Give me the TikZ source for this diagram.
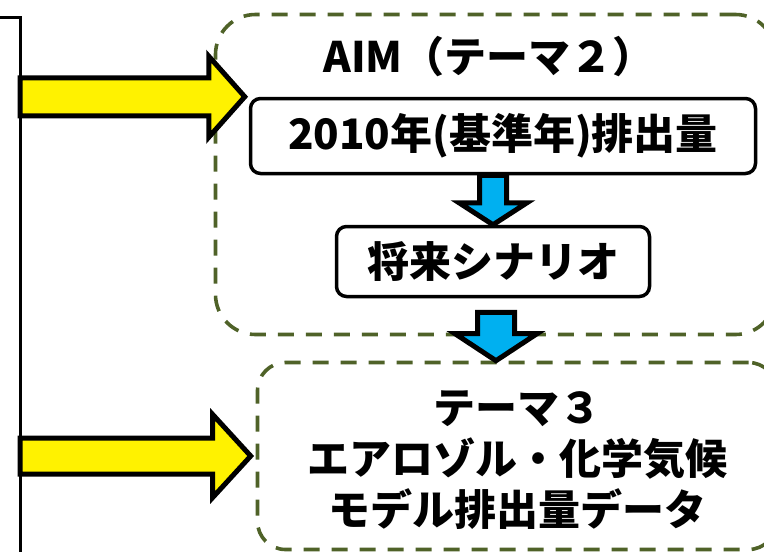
\documentclass[tikz,border=0pt]{standalone}
\usepackage{fontspec}
\newfontfamily\jp{Noto Sans CJK JP}
\usetikzlibrary{calc}
\definecolor{dashgreen}{RGB}{79,98,40}
\definecolor{cyanblue}{RGB}{0,176,240}
\begin{document}
\begin{tikzpicture}[x=1pt,y=-1pt,
  frame/.style={draw=dashgreen, line width=3.6pt, dash pattern=on 16pt off 12pt, rounded corners=40pt, inner sep=0pt},
  box/.style={draw=black, line width=3.5pt, rounded corners=10pt, fill=white, inner sep=0pt},
  txt/.style={font={\jp\bfseries\fontsize{42pt}{51pt}\selectfont}, align=center, inner sep=0pt},
  yarrow/.style={draw=black, fill=yellow, line width=5pt, line join=miter},
  barrow/.style={draw=black, fill=cyanblue, line width=5pt, line join=miter},
  vline/.style={draw=black, line width=3pt}]
\useasboundingbox (0,0) rectangle (764,552);
\clip (0,0) rectangle (764,552);
\fill[white] (0,0) rectangle (764,552);
% left bracket line
\coordinate (Ltop) at (0,17);
\coordinate (Lc) at (20,17);
\coordinate (Lbot) at (20,552);
\draw[vline] (Ltop) -- (Lc) -- (Lbot);
% frames and boxes
\node[frame, minimum width=560pt, minimum height=320pt] (f1) at (495.5,174.5) {};
\node[txt] (title) at (489,57) {AIM（テーマ２）};
\node[box, minimum width=505pt, minimum height=75pt] (b1) at (503,136) {};
\node[txt] (b1t) at (b1.center) {2010年(基準年)排出量};
\node[box, minimum width=313pt, minimum height=70pt] (b2) at (493,261.5) {};
\node[txt] (b2t) at (b2.center) {将来シナリオ};
\node[frame, rounded corners=28pt, minimum width=519pt, minimum height=187pt] (f2) at (517,456) {};
\node[txt] (t3) at (517,460) {テーマ３\\エアロゾル・化学気候\\モデル排出量データ};
% yellow arrows
\draw[yarrow] let \p1=(Lc), \p2=(b1.north west) in
  (\x1,\y2+19pt) -- (\x2-40pt,\y2+19pt) -- (\x2-40pt,\y2+40.5pt) -- (\x2-4pt,\y2)
  -- (\x2-40pt,\y2-40.5pt) -- (\x2-40pt,\y2-19pt) -- (\x1,\y2-19pt) -- cycle;
\draw[yarrow] let \p1=(Lc), \p2=(f2.west) in
  (\x1,\y2+18pt) -- (\x2-43pt,\y2+18pt) -- (\x2-43pt,\y2+41.5pt) -- (\x2-5pt,\y2)
  -- (\x2-43pt,\y2-41.5pt) -- (\x2-43pt,\y2-18pt) -- (\x1,\y2-18pt) -- cycle;
% blue arrows
\draw[barrow] let \p1=(b1.south), \p2=(b2.north) in
  (\x2-13.5pt,\y1) -- (\x2-13.5pt,\y2+22pt) -- (\x2-34pt,\y2+22pt) -- (\x2,\y2)
  -- (\x2+34pt,\y2+22pt) -- (\x2+13.5pt,\y2+22pt) -- (\x2+13.5pt,\y1) -- cycle;
\draw[barrow] let \p1=(b2.south), \p2=(f2.north) in
  (\x1-15.5pt,\y1-14pt) -- (\x1-15.5pt,\y2+27pt) -- (\x1-38pt,\y2+27pt) -- (\x1+3pt,\y2)
  -- (\x1+44pt,\y2+27pt) -- (\x1+21.5pt,\y2+27pt) -- (\x1+21.5pt,\y1-14pt) -- cycle;
\end{tikzpicture}
\end{document}
